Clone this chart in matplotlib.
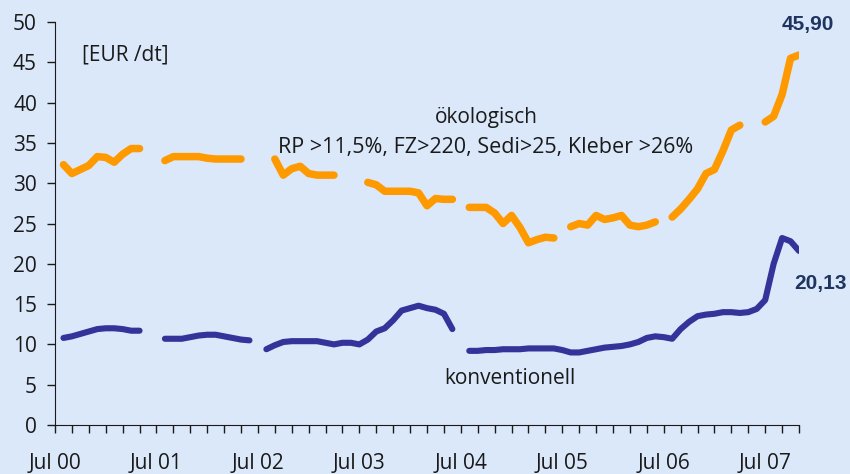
import numpy as np
import matplotlib
matplotlib.use("Agg")
import matplotlib.pyplot as plt

nan = np.nan

# months counted from Jul 2000 (0) to Nov 2007 (88)
months = list(range(89))

oeko = [nan, 32.3, 31.2, 31.7, 32.2, 33.3, 33.2, 32.6, 33.6, 34.3, 34.3, nan,
        nan, 32.8, 33.3, 33.3, 33.3, 33.3, 33.1, 33.0, 33.0, 33.0, 33.0, nan,
        nan, nan, 33.0, 31.0, 31.8, 32.1, 31.2, 31.0, 31.0, 31.0, nan, nan,
        nan, 30.1, 29.8, 29.0, 29.0, 29.0, 29.0, 28.8, 27.2, 28.1, 28.0, 28.0,
        nan, 27.0, 27.0, 27.0, 26.3, 25.0, 26.0, 24.5, 22.6, 23.0, 23.3, 23.2,
        nan, 24.6, 25.0, 24.8, 26.0, 25.5, 25.7, 26.0, 24.8, 24.6, 24.8, 25.2,
        nan, 25.8, 26.8, 28.0, 29.3, 31.2, 31.7, 34.0, 36.6, 37.2, nan, nan,
        37.6, 38.3, 41.0, 45.5, 45.9]

konv = [nan, 10.8, 11.0, 11.3, 11.6, 11.9, 12.0, 12.0, 11.9, 11.7, 11.7, nan,
        nan, 10.7, 10.7, 10.7, 10.9, 11.1, 11.2, 11.2, 11.0, 10.8, 10.6, 10.5,
        nan, 9.4, 9.9, 10.3, 10.4, 10.4, 10.4, 10.4, 10.2, 10.0, 10.2, 10.2,
        10.0, 10.6, 11.6, 12.0, 13.0, 14.2, 14.5, 14.8, 14.5, 14.3, 13.8, 11.9,
        nan, 9.2, 9.2, 9.3, 9.3, 9.4, 9.4, 9.4, 9.5, 9.5, 9.5, 9.5,
        9.3, 9.0, 9.0, 9.2, 9.4, 9.6, 9.7, 9.8, 10.0, 10.3, 10.8, 11.0,
        10.9, 10.7, 11.9, 12.8, 13.5, 13.7, 13.8, 14.0, 14.0, 13.9, 14.0, 14.4,
        15.5, 20.0, 23.2, 22.8, 21.6]

tick_labels = ["Jul 00", "Jul 01", "Jul 02", "Jul 03", "Jul 04", "Jul 05", "Jul 06", "Jul 07"]

bg = "#dbe8fa"
plt.rcParams["font.family"] = ["Open Sans", "DejaVu Sans"]

fig = plt.figure(figsize=(8.5, 4.74), dpi=100, facecolor=bg)
ax = fig.add_axes([55/850, 1-425/474, 744/850, 403/474])
ax.set_facecolor(bg)

ax.plot(months, oeko, color="#ff9900", lw=5.4, solid_capstyle="round", solid_joinstyle="round")
ax.plot(months, konv, color="#333399", lw=4.4, solid_capstyle="round", solid_joinstyle="round")

ax.set_xlim(0, 88)
ax.set_ylim(0, 50)
ax.set_yticks(range(0, 51, 5))
ax.set_xticks(range(0, 89, 12))
ax.set_xticklabels(tick_labels)
ax.set_xticks(range(0, 89, 2), minor=True)
ax.tick_params(axis="y", length=6, width=1, pad=7, labelsize=15, colors="#1a1a1a")
ax.tick_params(axis="x", which="both", length=6, width=1, pad=14, labelsize=15, colors="#1a1a1a")
for s in ["top", "right"]:
    ax.spines[s].set_visible(False)
for s in ["left", "bottom"]:
    ax.spines[s].set_color("#1a1a1a")

txt = "#1a1a1a"
ax.text(3.2, 45.9, "[EUR /dt]", fontsize=15, color=txt, va="center", ha="left")
ax.text(51.0, 38.2, "ökologisch", fontsize=15, color=txt, va="center", ha="center")
ax.text(50.9, 34.4, "RP >11,5%, FZ>220, Sedi>25, Kleber >26%", fontsize=15.5, color=txt,
        va="center", ha="center")
ax.text(53.8, 5.8, "konventionell", fontsize=15, color=txt, va="center", ha="center")
ax.text(89.1, 49.75, "45,90", fontsize=15, fontweight="bold", color="#1f3560",
        va="center", ha="center", family="Liberation Sans")
ax.text(90.6, 17.6, "20,13", fontsize=15, fontweight="bold", color="#1f3560",
        va="center", ha="center", family="Liberation Sans")

fig.savefig("out.png", dpi=100, facecolor=bg)
